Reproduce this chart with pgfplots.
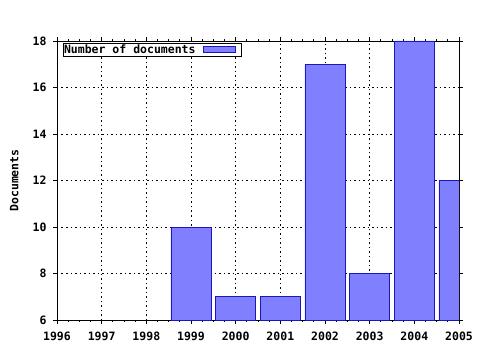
\documentclass[border=0pt]{standalone}
\usepackage{fontspec}
\setmainfont{DejaVu Sans Mono}
\usepackage{pgfplots}
\pgfplotsset{compat=1.18}
\definecolor{barfill}{RGB}{128,128,255}
\definecolor{baredge}{RGB}{24,24,190}
\begin{document}
\begin{tikzpicture}
\begin{axis}[
  scale only axis, width=402pt, height=279pt,
  xmin=1996, xmax=2005, ymin=6, ymax=18,
  xtick={1996,1997,1998,1999,2000,2001,2002,2003,2004,2005},
  xticklabels={1996,1997,1998,1999,2000,2001,2002,2003,2004,2005},
  ytick={6,8,10,12,14,16,18},
  minor x tick num=3,
  /pgf/number format/assume math mode=true,
  ticklabel style={font=\fontsize{11.5}{12}\selectfont\bfseries},
  yticklabel style={xshift=-3pt},
  xticklabel style={yshift=-4pt, text height=8.5pt, text depth=0pt},
  tick align=outside,
  major tick length=4pt, minor tick length=2pt,
  tick style={black, line width=0.8pt},
  axis line style={black, line width=0.8pt},
  grid=major,
  major grid style={black, line width=0.8pt, dash pattern=on 1.5pt off 3pt},
  ylabel={Documents},
  ylabel style={font=\fontsize{11.5}{12}\selectfont\bfseries, at={(axis description cs:-0.106,0.5)}, anchor=center},
  legend style={at={(axis description cs:0.015,0.993)}, anchor=north west, draw=black, line width=0.8pt,
    font=\fontsize{11.5}{11}\selectfont\bfseries, inner sep=0pt, outer sep=0pt,
    nodes={inner xsep=1pt, inner ysep=1.8pt}},
  legend plot pos=right,
  ybar, bar width=0.9,
]
\addplot[fill=barfill, draw=baredge, line width=0.8pt,
  legend image code/.code={\path[draw=none, fill=none] (0pt,-3pt) rectangle (45pt,3pt);
    \draw[fill=barfill, draw=baredge, line width=0.8pt] (7pt,-3pt) rectangle (39pt,3pt);}] coordinates {
  (1999,10) (2000,7) (2001,7) (2002,17) (2003,8) (2004,18) (2005,12)
};
\addlegendentry{Number of documents}
\end{axis}
\pgfresetboundingbox
\path ([shift={(-57pt,-30pt)}]current axis.south west) rectangle ([shift={(21pt,41pt)}]current axis.north east);
\end{tikzpicture}
\end{document}
